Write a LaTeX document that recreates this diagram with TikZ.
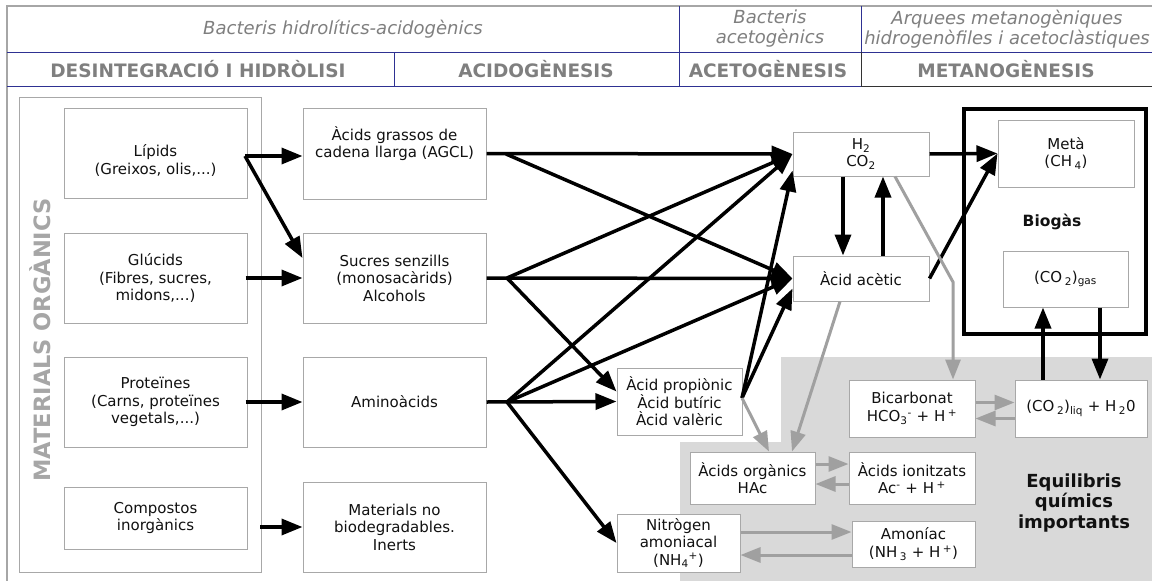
\documentclass[tikz,border=0pt]{standalone}
\usepackage{fontspec}
\setmainfont{DejaVu Sans}
\usetikzlibrary{arrows.meta}
\definecolor{hdrgray}{HTML}{7F7F7F}
\definecolor{framegray}{HTML}{A6A6A6}
\definecolor{boxgray}{HTML}{A8A8A8}
\definecolor{navy}{HTML}{2E3192}
\definecolor{darkline}{HTML}{333333}
\definecolor{regiongray}{HTML}{D9D9D9}
\definecolor{arrgray}{HTML}{A0A0A0}
\definecolor{txt}{HTML}{111111}
\newcommand{\bodyf}{\fontsize{15}{17.5}\selectfont}
\newcommand{\hdrif}{\fontsize{18}{20}\selectfont\itshape}
\newcommand{\hdrbf}{\fontsize{18.5}{21}\selectfont\bfseries}
\tikzset{
  box/.style={draw=boxgray, line width=1pt, fill=white, inner sep=0pt, align=center, font=\bodyf, text=txt},
  hdrone/.style={font=\hdrif, text=hdrgray, align=center, inner sep=0pt},
  hdrtwo/.style={font=\hdrbf, text=hdrgray, align=center, inner sep=0pt},
  barrow/.style={line width=3.5pt, draw=black, -{Triangle[length=21pt,width=16pt]}},
  garrow/.style={line width=3pt, draw=arrgray, -{Triangle[length=20pt,width=15pt]}},
}
\begin{document}
\begin{tikzpicture}[x=1pt,y=-1pt]
\useasboundingbox (0,0) rectangle (1152,581);
\fill[white] (0,0) rectangle (1152,581);
% header frame
\draw[framegray, line width=2pt] (7,581) -- (7,6) -- (1152,6);
\draw[navy, line width=1pt] (7,52) -- (1152,52);
\draw[navy, line width=1pt] (7,86) -- (861,86);
\draw[darkline, line width=1pt] (861,86) -- (1152,86);
\draw[navy, line width=1pt] (394,52) -- (394,86);
\draw[navy, line width=1pt] (679,6) -- (679,86);
\draw[navy, line width=1pt] (861,6) -- (861,52);
\draw[darkline, line width=1pt] (861,52) -- (861,86);
\node[hdrone] (hA) at (343,29) {Bacteris hidrolítics-acidogènics};
\node[hdrone] (hB) at (770,29) {Bacteris\\acetogènics};
\node[hdrone] (hC) at (1007,29) {Arquees metanogèniques\\hidrogenòfiles i acetoclàstiques};
\node[hdrtwo] (pA) at (198,69) {DESINTEGRACIÓ I HIDRÒLISI};
\node[hdrtwo] (pB) at (536,69) {ACIDOGÈNESIS};
\node[hdrtwo] (pC) at (768,69) {ACETOGÈNESIS};
\node[hdrtwo] (pD) at (1006,69) {METANOGÈNESIS};
% grey equilibrium region
\fill[regiongray] (781,357) -- (1152,357) -- (1152,581) -- (680,581) -- (680,442) -- (781,442) -- cycle;
% organic materials frame
\node[box, minimum width=242pt, minimum height=475pt] (org) at (140,334.5) {};
\node[rotate=90, font=\fontsize{22.5}{25}\selectfont\bfseries, text=framegray, inner sep=0pt] (orgl) at (40,340) {MATERIALS ORGÀNICS};
% column 1
\node[box, minimum width=183pt, minimum height=90pt] (lip) at (155.5,153) {\strut\\Lípids\strut\\(Greixos, olis,...)\strut};
\node[box, minimum width=183pt, minimum height=90pt] (glu) at (155.5,278) {Glúcids\\(Fibres, sucres,\\midons,...)};
\node[box, minimum width=183pt, minimum height=90pt] (pro) at (155.5,402) {Proteïnes\\(Carns, proteïnes\\vegetals,...)};
\node[box, minimum width=183pt, minimum height=62pt] (comp) at (155.5,518) {Compostos\\inorgànics};
% column 2
\node[box, minimum width=183pt, minimum height=91pt] (agcl) at (394.5,153.5) {Àcids grassos de\strut\\cadena llarga (AGCL)\strut\\\strut};
\node[box, minimum width=183pt, minimum height=90pt] (suc) at (394.5,278) {Sucres senzills\\(monosacàrids)\\Alcohols};
\node[box, minimum width=183pt, minimum height=90pt] (ami) at (394.5,402) {Aminoàcids};
\node[box, minimum width=183pt, minimum height=90pt] (inert) at (394.5,527) {Materials no\\biodegradables.\\Inerts};
% column 3
\node[box, minimum width=125pt, minimum height=67pt] (prop) at (679.5,401.5) {Àcid propiònic\\Àcid butíric\\Àcid valèric};
\node[box, minimum width=123pt, minimum height=58pt] (nit) at (678.5,543) {Nitrògen\\amoniacal\\(NH\textsubscript{4}\textsuperscript{+})};
% column 4
\node[box, minimum width=136pt, minimum height=44pt] (h2) at (861,154) {H\textsubscript{2}\\CO\textsubscript{2}};
\node[box, minimum width=136pt, minimum height=45pt] (ace) at (861,278.5) {Àcid acètic};
\node[box, minimum width=125pt, minimum height=52pt] (aorg) at (752.5,478) {Àcids orgànics\\HAc};
\node[box, minimum width=126pt, minimum height=52pt] (aion) at (912,478) {Àcids ionitzats\\Ac\textsuperscript{-} + H\,\textsuperscript{+}};
\node[box, minimum width=126pt, minimum height=57pt] (bic) at (912,408.5) {Bicarbonat\\HCO\textsubscript{3}\textsuperscript{-} + H\,\textsuperscript{+}};
\node[box, minimum width=123pt, minimum height=46pt] (amo) at (913.5,544) {Amoníac\\(NH\,\textsubscript{3} + H\,\textsuperscript{+})};
\node[box, minimum width=132pt, minimum height=57pt] (co2liq) at (1081,408.5) {(CO\,\textsubscript{2})\textsubscript{liq} + H\,\textsubscript{2}0};
% biogas
\node[draw=black, line width=4pt, minimum width=181.5pt, minimum height=225.6pt, inner sep=0pt] (bio) at (1054.75,221.4) {};
\node[box, minimum width=136pt, minimum height=67pt] (meta) at (1066,153.5) {Metà\\(CH\,\textsubscript{4})};
\node[font=\fontsize{15.5}{18}\selectfont\bfseries, text=txt, inner sep=0pt] (biol) at (1052,222) {Biogàs};
\node[box, minimum width=125pt, minimum height=56pt] (co2gas) at (1065.5,279) {(CO\,\textsubscript{2})\textsubscript{gas}};
\node[font=\fontsize{18}{20.5}\selectfont\bfseries, text=txt, align=center, inner sep=0pt] (eq) at (1074,503) {Equilibris\\químics\\importants};
% fan points
\coordinate (lipf) at (245,156);
\coordinate (compf) at (260,527);
\coordinate (agf) at (506,154);
\coordinate (sucf) at (507,278);
\coordinate (amif) at (507,402);
\coordinate (propf) at (742,398);
\coordinate (bend) at (953,282);
% black arrows
\draw[barrow] (lipf) -- (lipf -| agcl.west);
\draw[barrow] (lipf) -- ([yshift=20pt]suc.west);
\draw[barrow] ([xshift=-2pt]glu.east) -- (suc.west);
\draw[barrow] ([xshift=-2pt]pro.east) -- (ami.west);
\draw[barrow] (compf) -- (compf -| inert.west);
\draw[barrow] (agcl.east) -- (h2.west);
\draw[barrow] (agf) -- (ace.west);
\draw[barrow] (suc.east) -- (ace.west);
\draw[barrow] (sucf) -- (h2.west);
\draw[barrow] (sucf) -- ([yshift=10pt]prop.west);
\draw[barrow] (ami.east) -- (prop.west);
\draw[barrow] (amif) -- (h2.west);
\draw[barrow] (amif) -- (ace.west);
\draw[barrow] (amif) -- (nit.west);
\draw[barrow] (propf) -- ([yshift=6pt]h2.south west);
\draw[barrow] (propf) -- ([yshift=-10pt]ace.west);
\draw[barrow] (h2.east) -- (meta.west);
\draw[barrow] ([xshift=-18pt]h2.south) -- ([xshift=-18pt]ace.north);
\draw[barrow] ([xshift=22pt]ace.north) -- ([xshift=22pt]h2.south);
\draw[barrow] (ace.east) -- (meta.west);
\draw[barrow] (co2liq.north -| 1043,0) -- (co2gas.south -| 1043,0);
\draw[barrow] (co2gas.south -| 1100,0) -- (co2liq.north -| 1100,0);
% grey arrows
\draw[garrow] ([xshift=34pt]h2.south) -- (bend) -- (bic.north -| bend);
\draw[garrow] ([yshift=6pt]bic.east) -- ([yshift=6pt]co2liq.west);
\draw[garrow] ([yshift=-10pt]co2liq.west) -- ([yshift=-10pt]bic.east);
\draw[garrow] ([yshift=14pt]aorg.east) -- ([yshift=14pt]aion.west);
\draw[garrow] ([yshift=-6pt]aion.west) -- ([yshift=-6pt]aorg.east);
\draw[garrow] ([yshift=11pt]nit.east) -- ([yshift=11pt]nit.east -| amo.west);
\draw[garrow] ([yshift=-12pt]nit.east -| amo.west) -- ([yshift=-12pt]nit.east);
\draw[garrow] (propf) -- ([xshift=16.5pt]aorg.north);
\draw[garrow] ([xshift=-21pt]ace.south) -- ([xshift=39.5pt]aorg.north);
\end{tikzpicture}
\end{document}
